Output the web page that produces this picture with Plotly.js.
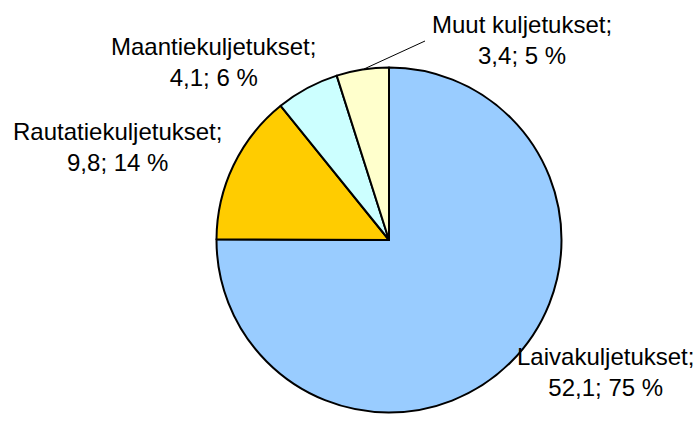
<!DOCTYPE html>
<html><head><meta charset="utf-8">
<script src="https://cdn.plot.ly/plotly-3.0.1.min.js"></script>
<style>html,body{margin:0;padding:0;background:#fff}</style>
</head><body><div id="chart" style="width:699px;height:425px"></div>
<script>
const categories = ["Laivakuljetukset", "Rautatiekuljetukset", "Maantiekuljetukset", "Muut kuljetukset"];
const values = [52.1, 9.8, 4.1, 3.4];
const colors = ["#99CCFF", "#FFCC00", "#CCFFFF", "#FFFFCC"];

const W = 699, H = 425;
const total = values.reduce((a, b) => a + b, 0);
function fmt(v) { return v.toFixed(1).replace('.', ','); }
const labelText = categories.map((c, i) => c + ";<br>" + fmt(values[i]) + "; " + Math.round(values[i] / total * 100) + " %");

// label centres in pixels (layout only)
const labelPos = [[605, 372], [117, 147], [213, 62], [522, 40]];
const px = x => x / W, py = y => 1 - y / H;

const cx = 389, cy = 240, r = 172.5;

const annotations = labelText.map((t, i) => ({
  text: t, xref: 'paper', yref: 'paper', x: px(labelPos[i][0]), y: py(labelPos[i][1]),
  xanchor: 'center', yanchor: 'middle', showarrow: false, align: 'center',
  font: {family: 'Liberation Sans, Arial, sans-serif', size: 24, color: '#000'}
}));

const data = [{
  type: 'pie', labels: categories, values: values, sort: false, direction: 'clockwise', rotation: 0,
  marker: {colors: colors, line: {color: '#000', width: 2}},
  textinfo: 'none', hoverinfo: 'label+value+percent', showlegend: false,
  domain: {x: [px(cx - r), px(cx + r)], y: [py(cy + r), py(cy - r)]}
}];

const layout = {
  width: W, height: H, margin: {l: 0, r: 0, t: 0, b: 0},
  paper_bgcolor: '#fff', plot_bgcolor: '#fff', showlegend: false,
  annotations: annotations,
  shapes: [{type: 'line', xref: 'paper', yref: 'paper', x0: px(364), y0: py(69), x1: px(425), y1: py(41),
            line: {color: '#000', width: 1}}]
};
Plotly.newPlot('chart', data, layout, {displayModeBar: false, staticPlot: true});
</script></body></html>
